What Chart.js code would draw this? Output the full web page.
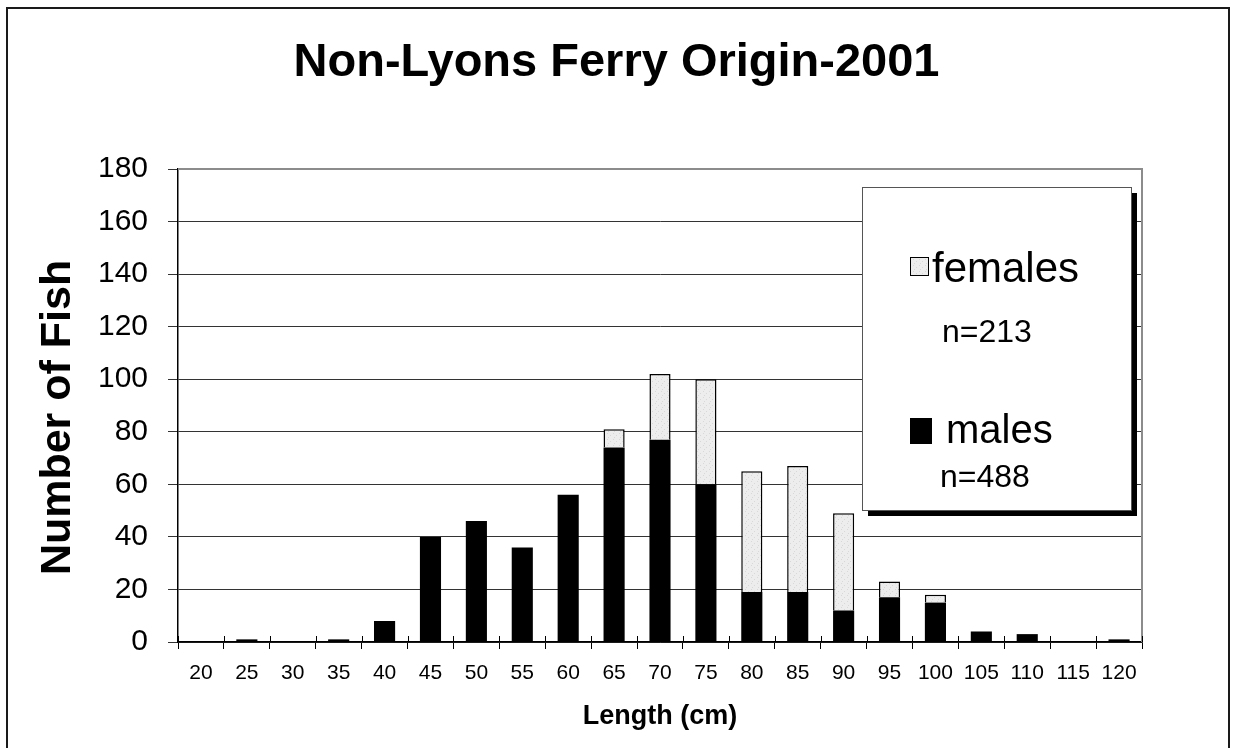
<!DOCTYPE html>
<html>
<head>
<meta charset="utf-8">
<script src="https://cdn.jsdelivr.net/npm/chart.js@4/dist/chart.umd.min.js"></script>
<style>
  html, body { margin: 0; padding: 0; background: #fff; }
  #wrap { width: 1233px; height: 748px; position: relative; }
</style>
</head>
<body>
<div id="wrap"><canvas id="chart" width="1233" height="748"></canvas></div>
<script>
'use strict';

// length classes (cm)
const lengths = ['20', '25', '30', '35', '40', '45', '50', '55', '60', '65', '70',
  '75', '80', '85', '90', '95', '100', '105', '110', '115', '120'];
const males = [0, 1, 0, 1, 8, 40, 46, 36, 56, 74, 77, 60, 19, 19, 12, 17, 15, 4, 3, 0, 1];
const females = [0, 0, 0, 0, 0, 0, 0, 0, 0, 7, 25, 40, 46, 48, 37, 6, 3, 0, 0, 0, 0];
const yTicks = [0, 20, 40, 60, 80, 100, 120, 140, 160, 180];
const legendItems = [
  { label: 'females', n: 'n=213', fill: '#ebebeb' },
  { label: 'males', n: 'n=488', fill: '#000000' }
];

const FONT = 'Arial, "Liberation Sans", sans-serif';

// light stipple for the female bars
function stipple() {
  const c = document.createElement('canvas');
  c.width = 6;
  c.height = 6;
  const g = c.getContext('2d');
  g.fillStyle = '#ededed';
  g.fillRect(0, 0, 6, 6);
  g.fillStyle = '#d8d8d8';
  g.fillRect(1, 1, 1, 1);
  g.fillRect(4, 3, 1, 1);
  g.fillRect(2, 5, 1, 1);
  return g.createPattern(c, 'repeat');
}
const femaleFill = stipple();

// outer frame, plot border on top/right
const framePlugin = {
  id: 'frame',
  beforeDraw(chart) {
    const ctx = chart.ctx;
    ctx.save();
    ctx.fillStyle = '#fff';
    ctx.fillRect(0, 0, chart.width, chart.height);
    ctx.strokeStyle = '#1a1a1a';
    ctx.lineWidth = 2;
    ctx.strokeRect(7, 8, 1222, 800);
    ctx.restore();
  },
  afterDatasetsDraw(chart) {
    const a = chart.chartArea;
    const ctx = chart.ctx;
    ctx.save();
    ctx.strokeStyle = '#8c8c8c';
    ctx.lineWidth = 2;
    ctx.beginPath();
    ctx.moveTo(a.left, a.top);
    ctx.lineTo(a.right, a.top);
    ctx.lineTo(a.right, a.bottom);
    ctx.stroke();
    // little ticks above the x axis too
    const x = chart.scales.x;
    ctx.strokeStyle = '#000';
    ctx.lineWidth = 1;
    for (let i = 0; i <= lengths.length; i++) {
      const px = Math.round(x.getPixelForValue(i - 0.5)) + 0.5;
      ctx.beginPath();
      ctx.moveTo(px, a.bottom - 6);
      ctx.lineTo(px, a.bottom);
      ctx.stroke();
    }
    ctx.restore();
  }
};

// boxed legend with shadow
const boxLegend = {
  id: 'boxLegend',
  afterDraw(chart) {
    const ctx = chart.ctx;
    const bx = 862, by = 187, bw = 269, bh = 323;
    ctx.save();
    ctx.fillStyle = '#000';
    ctx.fillRect(bx + 6, by + 6, bw, bh);
    ctx.fillStyle = '#fff';
    ctx.fillRect(bx, by, bw, bh);
    ctx.strokeStyle = '#555';
    ctx.lineWidth = 1;
    ctx.strokeRect(bx + 0.5, by + 0.5, bw, bh);

    ctx.fillStyle = femaleFill;
    ctx.fillRect(910, 257, 18, 18);
    ctx.strokeStyle = '#000';
    ctx.strokeRect(910.5, 257.5, 18, 18);
    ctx.fillStyle = '#000';
    ctx.font = '42px ' + FONT;
    ctx.textBaseline = 'alphabetic';
    ctx.fillText(legendItems[0].label, 932, 282);
    ctx.font = '32px ' + FONT;
    ctx.fillText(legendItems[0].n, 942, 342);

    ctx.fillStyle = legendItems[1].fill;
    ctx.fillRect(910, 418, 22, 26);
    ctx.fillStyle = '#000';
    ctx.font = '40px ' + FONT;
    ctx.fillText(legendItems[1].label, 946, 443);
    ctx.font = '32px ' + FONT;
    ctx.fillText(legendItems[1].n, 940, 487);
    ctx.restore();
  }
};

new Chart(document.getElementById('chart'), {
  type: 'bar',
  data: {
    labels: lengths,
    datasets: [
      {
        label: 'males',
        data: males,
        backgroundColor: '#000',
        borderWidth: 0,
        barPercentage: 0.46,
        categoryPercentage: 1
      },
      {
        label: 'females',
        data: females,
        backgroundColor: femaleFill,
        borderColor: '#000',
        borderWidth: 1.5,
        barPercentage: 0.46,
        categoryPercentage: 1
      }
    ]
  },
  options: {
    responsive: false,
    animation: false,
    layout: { padding: 0 },
    plugins: {
      legend: { display: false },
      tooltip: { enabled: false },
      title: {
        display: true,
        text: 'Non-Lyons Ferry Origin-2001',
        color: '#000',
        font: { family: FONT, size: 47, weight: 'bold' },
        padding: { top: 35, bottom: 77.6 }
      }
    },
    scales: {
      x: {
        stacked: true,
        grid: {
          offset: true,
          drawOnChartArea: false,
          drawTicks: true,
          tickLength: 7,
          color: '#000',
          lineWidth: 1
        },
        border: { display: true, color: '#000', width: 1.5 },
        ticks: {
          color: '#000',
          font: { family: FONT, size: 21 },
          padding: 12,
          maxRotation: 0,
          autoSkip: false
        },
        title: {
          display: true,
          text: 'Length (cm)',
          color: '#000',
          font: { family: FONT, size: 27, weight: 'bold' },
          padding: { top: 0, bottom: 15 }
        },
        afterFit(scale) { scale.height = 106; }
      },
      y: {
        stacked: true,
        min: 0,
        max: 180,
        afterBuildTicks(scale) {
          scale.ticks = yTicks.map(v => ({ value: v }));
        },
        grid: {
          color: ctx => (ctx.tick && ctx.tick.value === 180 ? '#8c8c8c' : '#333'),
          tickColor: '#333',
          lineWidth: 1,
          tickLength: 10
        },
        border: { display: true, color: '#000', width: 1.5 },
        ticks: {
          color: '#000',
          font: { family: FONT, size: 30 },
          padding: 20
        },
        title: {
          display: true,
          text: 'Number of Fish  ',
          color: '#000',
          font: { family: FONT, size: 43, weight: 'bold' },
          padding: { top: 32, bottom: 0 }
        },
        afterFit(scale) { scale.width = 178; }
      },
      // empty spacer so the plot ends where the reference does
      spacer: {
        type: 'linear',
        position: 'right',
        display: true,
        grid: { display: false },
        border: { display: false },
        ticks: { display: false },
        afterFit(scale) { scale.width = 91; }
      }
    }
  },
  plugins: [framePlugin, boxLegend]
});
</script>
</body>
</html>
